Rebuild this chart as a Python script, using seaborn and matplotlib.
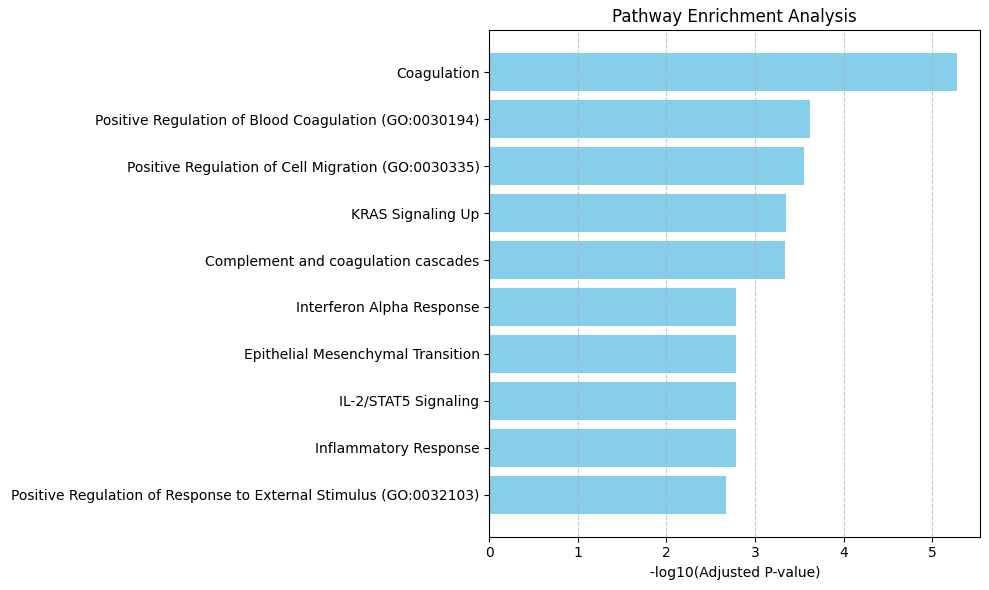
import matplotlib
matplotlib.use("Agg")
import matplotlib.pyplot as plt
import seaborn as sns
import pandas as pd

pathways = [
    "Coagulation",
    "Positive Regulation of Blood Coagulation (GO:0030194)",
    "Positive Regulation of Cell Migration (GO:0030335)",
    "KRAS Signaling Up",
    "Complement and coagulation cascades",
    "Interferon Alpha Response",
    "Epithelial Mesenchymal Transition",
    "IL-2/STAT5 Signaling",
    "Inflammatory Response",
    "Positive Regulation of Response to External Stimulus (GO:0032103)",
]
scores = [5.28, 3.625, 3.557, 3.354, 3.343, 2.79, 2.79, 2.79, 2.79, 2.667]

df = pd.DataFrame({"pathway": pathways, "score": scores})

fig, ax = plt.subplots(figsize=(9.89, 5.9), dpi=100)
sns.barplot(data=df, x="score", y="pathway", orient="h", color="skyblue",
            saturation=1, width=0.8, ax=ax, errorbar=None)
n = len(pathways)
ax.set_ylim(n - 1 + 0.4 + 0.49, -0.4 - 0.49)
ax.set_xlim(0, max(scores) * 1.05)
ax.set_xlabel("-log10(Adjusted P-value)")
ax.set_ylabel("")
ax.set_title("Pathway Enrichment Analysis")
ax.grid(axis="x", linestyle="--", alpha=0.7)
ax.grid(axis="y", visible=False)
for s in ax.spines.values():
    s.set_visible(True)
fig.subplots_adjust(left=489.3 / 989, right=980.3 / 989,
                    top=1 - 30.3 / 590, bottom=1 - 536.7 / 590)
fig.savefig("out.png", dpi=100)
